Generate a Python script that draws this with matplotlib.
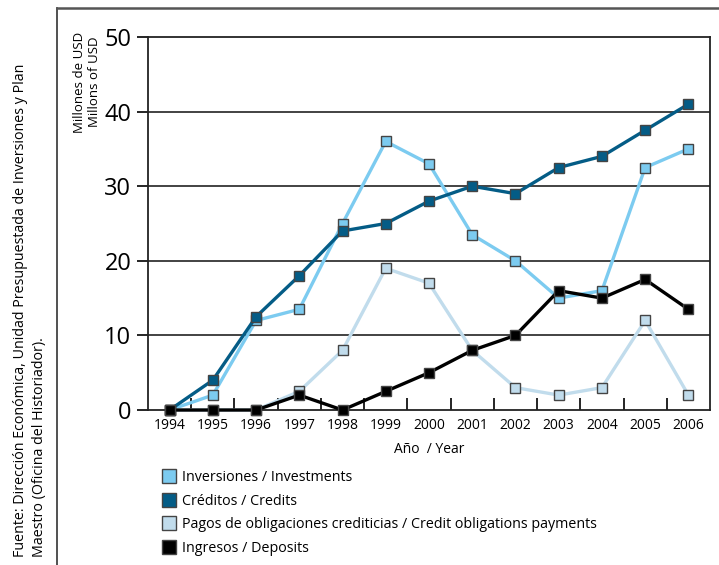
import matplotlib.pyplot as plt
from matplotlib.lines import Line2D

plt.rcParams['font.family'] = ['Open Sans', 'DejaVu Sans']

years = [1994, 1995, 1996, 1997, 1998, 1999, 2000, 2001, 2002, 2003, 2004, 2005, 2006]
inversiones = [0, 2, 12, 13.5, 25, 36, 33, 23.5, 20, 15, 16, 32.5, 35]
creditos = [0, 4, 12.5, 18, 24, 25, 28, 30, 29, 32.5, 34, 37.5, 41]
pagos = [0, 0, 0, 2.5, 8, 19, 17, 8, 3, 2, 3, 12, 2]
ingresos = [0, 0, 0, 2, 0, 2.5, 5, 8, 10, 16, 15, 17.5, 13.5]

labels = [
    "Inversiones / Investments",
    "Créditos / Credits",
    "Pagos de obligaciones crediticias / Credit obligations payments",
    "Ingresos / Deposits",
]
colors = ["#7ccbf0", "#045c86", "#c1dcec", "#000000"]
y_ticks = [0, 10, 20, 30, 40, 50]

fig = plt.figure(figsize=(7.19, 5.65), dpi=100)
ax = fig.add_axes([0.2058, 0.2743, 0.7817, 0.6602])

# series (order so black sits on top)
series = [pagos, creditos, inversiones, ingresos]
order = [2, 1, 0, 3]
for vals, idx in zip(series, order):
    ax.plot(years, vals, color=colors[idx], lw=2.4, marker='s', ms=7,
            markerfacecolor=colors[idx], markeredgecolor='#444444',
            markeredgewidth=1, zorder=3 + idx * 0.1, clip_on=False)

ax.set_xlim(1993.5, 2006.5)
ax.set_ylim(0, 50)
ax.set_yticks(y_ticks)
ax.set_yticklabels([str(v) for v in y_ticks], fontsize=17)
for v in y_ticks[1:-1]:
    ax.axhline(v, color='#222222', lw=1.2, zorder=1)
ax.tick_params(axis='y', direction='out', length=8, width=1.2, pad=4)

ax.set_xticks(years)
ax.set_xticklabels([str(y) for y in years], fontsize=10)
ax.tick_params(axis='x', length=0, pad=6)
ax.set_xticks([y + 0.5 for y in years[:-1]], minor=True)
ax.tick_params(axis='x', which='minor', direction='in', length=9, width=1.2)
ax.set_xlabel("Año  / Year", fontsize=10, labelpad=6)

for s in ax.spines.values():
    s.set_linewidth(1.3)
    s.set_color('#222222')

# y label
fig.text(0.121, 0.944, "Millones de USD\nMillons of USD", rotation=90,
         ha='center', va='top', fontsize=9.5, linespacing=1.2)

# source
fig.text(0.018, 0.015, "Fuente: Dirección Económica, Unidad Presupuestada de Inversiones y Plan\n"
         "Maestro (Oficina del Historiador).", rotation=90, ha='left', va='bottom',
         fontsize=10.3, linespacing=1.35)

# outer frame lines
fig.add_artist(Line2D([0.0793, 0.0793], [0, 0.986], color='#333333', lw=1.2))
fig.add_artist(Line2D([0.0793, 1.0], [0.986, 0.986], color='#555555', lw=1.8))

# legend
handles = [Line2D([], [], ls='none', marker='s', ms=10, markerfacecolor=c,
                  markeredgecolor='#444444', markeredgewidth=1) for c in colors]
fig.legend(handles, labels, loc='upper left', bbox_to_anchor=(0.217, 0.178),
           frameon=False, fontsize=10.3, handletextpad=0.4, labelspacing=0.6,
           handlelength=1.0, borderaxespad=0)

fig.savefig("out.png", dpi=100)
